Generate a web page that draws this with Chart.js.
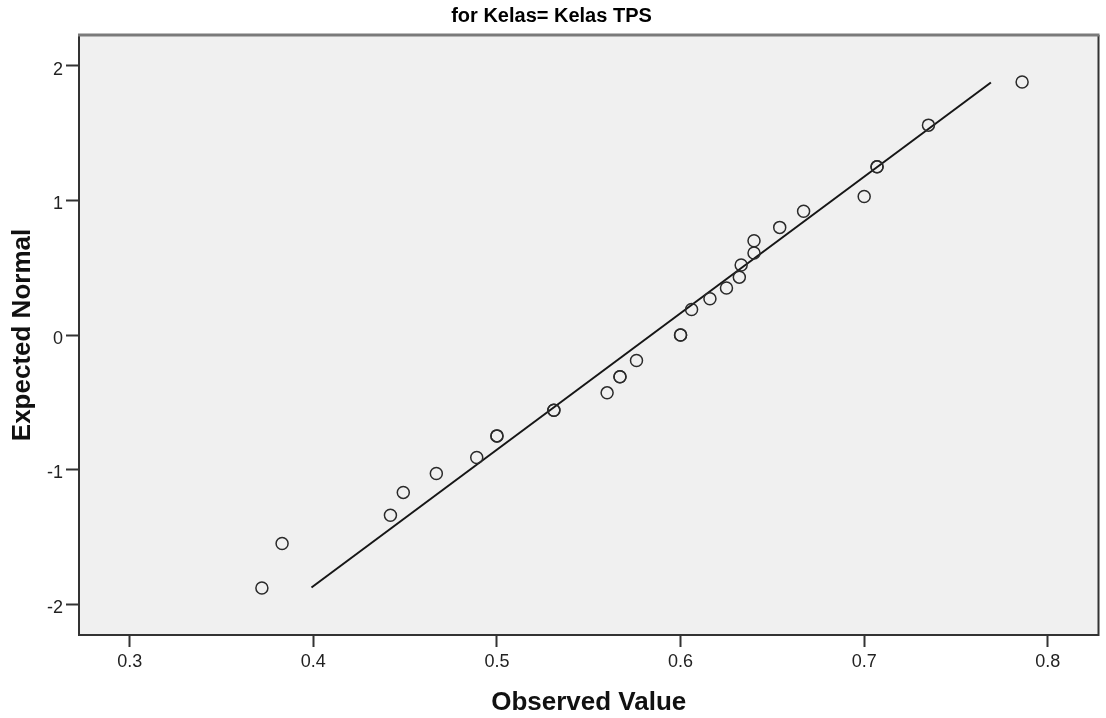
<!DOCTYPE html>
<html>
<head>
<meta charset="utf-8">
<script src="https://cdn.jsdelivr.net/npm/chart.js@4.4.1/dist/chart.umd.min.js"></script>
<style>
  html, body { margin: 0; padding: 0; background: #ffffff; }
  #wrap { width: 1106px; height: 718px; position: relative; }
</style>
</head>
<body>
<div id="wrap"><canvas id="c" width="1106" height="718"></canvas></div>
<script>
// ---- data ----
const chartTitle = 'for Kelas= Kelas TPS';
const xAxisTitle = 'Observed Value';
const yAxisTitle = 'Expected Normal';

// Observed values (tied observations repeated)
const observed = [0.372, 0.383, 0.442, 0.449, 0.467, 0.489, 0.500, 0.500,
  0.531, 0.531, 0.560, 0.567, 0.567, 0.576, 0.600, 0.600, 0.606, 0.616,
  0.625, 0.632, 0.633, 0.640, 0.640, 0.654, 0.667, 0.700, 0.707, 0.707,
  0.735, 0.786];
// Expected normal values
const expected = [-1.88, -1.55, -1.34, -1.17, -1.03, -0.91, -0.75, -0.75,
  -0.56, -0.56, -0.43, -0.31, -0.31, -0.19, 0.00, 0.00, 0.19, 0.27,
  0.35, 0.43, 0.52, 0.61, 0.70, 0.80, 0.92, 1.03, 1.25, 1.25,
  1.56, 1.88];

// Reference line endpoints
const refLineX = [0.399, 0.769];
const refLineY = [-1.877, 1.877];

const xTicks = [0.3, 0.4, 0.5, 0.6, 0.7, 0.8];
const yTicks = [-2, -1, 0, 1, 2];
const xRange = [0.2724, 0.8276];
const yRange = [-2.23, 2.23];

const points = observed.map((v, i) => ({ x: v, y: expected[i] }));
const refLine = refLineX.map((v, i) => ({ x: v, y: refLineY[i] }));

const frame = {
  id: 'frame',
  beforeDatasetsDraw(chart) {
    const { ctx, chartArea: a } = chart;
    ctx.save();
    ctx.fillStyle = '#f0f0f0';
    ctx.fillRect(a.left, a.top, a.right - a.left, a.bottom - a.top);
    ctx.restore();
  },
  afterDraw(chart) {
    const { ctx, chartArea: a } = chart;
    ctx.save();
    ctx.strokeStyle = '#333333';
    ctx.lineWidth = 2;
    ctx.beginPath();
    ctx.moveTo(a.left, a.top);
    ctx.lineTo(a.left, a.bottom);
    ctx.lineTo(a.right, a.bottom);
    ctx.lineTo(a.right, a.top);
    ctx.stroke();
    ctx.strokeStyle = '#7a7a7a';
    ctx.lineWidth = 3;
    ctx.beginPath();
    ctx.moveTo(a.left - 1, a.top);
    ctx.lineTo(a.right + 1, a.top);
    ctx.stroke();
    ctx.restore();
  }
};

Chart.defaults.font.family = '"Liberation Sans", Arial, sans-serif';
Chart.defaults.color = '#222222';

new Chart(document.getElementById('c'), {
  type: 'scatter',
  data: {
    datasets: [
      {
        type: 'line',
        data: refLine,
        borderColor: '#161616',
        borderWidth: 2,
        pointRadius: 0,
        fill: false,
        order: 1
      },
      {
        type: 'scatter',
        data: points,
        pointStyle: 'circle',
        pointRadius: 6,
        pointBorderWidth: 1.5,
        borderColor: '#2a2a2a',
        backgroundColor: 'rgba(0,0,0,0)',
        order: 0
      }
    ]
  },
  options: {
    responsive: false,
    animation: false,
    events: [],
    layout: { padding: { top: 0, right: 3, bottom: 0, left: 0 } },
    plugins: {
      legend: { display: false },
      tooltip: { enabled: false },
      title: {
        display: true,
        text: chartTitle,
        color: '#000000',
        font: { size: 20, weight: 'bold' },
        padding: { top: 4, bottom: 7 }
      }
    },
    scales: {
      x: {
        type: 'linear',
        min: xRange[0],
        max: xRange[1],
        afterBuildTicks(scale) { scale.ticks = xTicks.map(v => ({ value: v })); },
        afterFit(scale) { scale.height = 83; },
        border: { display: false },
        grid: { drawOnChartArea: false, drawTicks: true, tickLength: 12, tickColor: '#333333', tickWidth: 2 },
        ticks: {
          padding: 4,
          color: '#222222',
          font: { size: 18 },
          maxRotation: 0,
          callback: v => Number(v).toFixed(1)
        },
        title: {
          display: true,
          text: xAxisTitle,
          color: '#111111',
          font: { size: 26, weight: 'bold' },
          padding: { top: 0, bottom: 0 }
        }
      },
      y: {
        type: 'linear',
        min: yRange[0],
        max: yRange[1],
        afterBuildTicks(scale) { scale.ticks = yTicks.map(v => ({ value: v })); },
        afterFit(scale) { scale.width = 79; },
        border: { display: false },
        grid: { drawOnChartArea: false, drawTicks: true, tickLength: 13, tickColor: '#333333', tickWidth: 2 },
        ticks: {
          padding: 3,
          labelOffset: 4,
          color: '#222222',
          font: { size: 18 },
          callback: v => String(v)
        },
        title: {
          display: true,
          text: yAxisTitle,
          color: '#111111',
          font: { size: 26, weight: 'bold' },
          padding: { top: 7, bottom: 0 }
        }
      }
    }
  },
  plugins: [frame]
});
</script>
</body>
</html>
